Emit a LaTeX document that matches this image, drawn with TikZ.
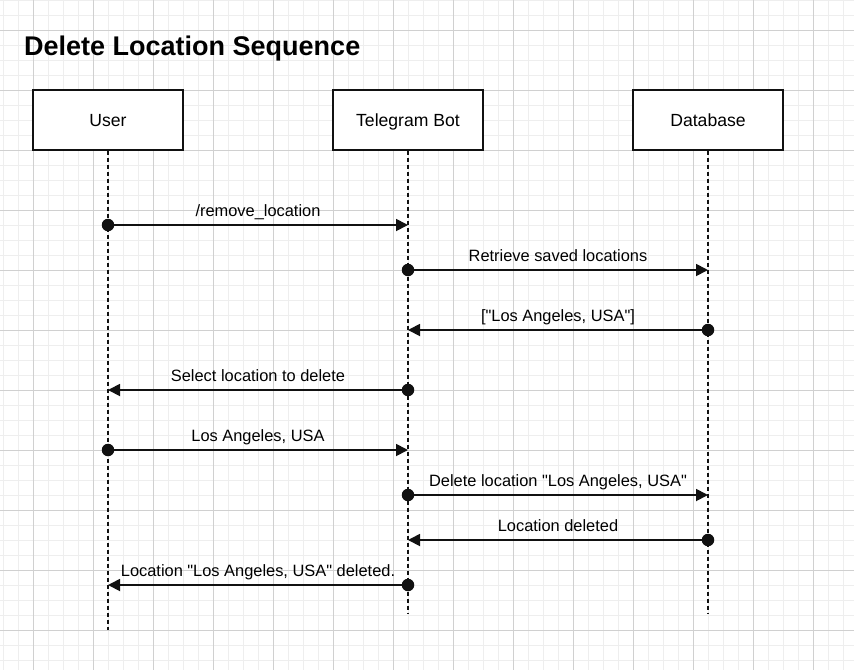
\documentclass[tikz,border=0pt]{standalone}
\usepackage{fontspec}
\setmainfont{Liberation Sans}[Ligatures=TeXOff]
\usetikzlibrary{arrows.meta,calc}
\definecolor{gridminor}{HTML}{EEEEEE}
\definecolor{gridmajor}{HTML}{D0D0D0}
\definecolor{ink}{HTML}{111111}
\tikzset{
  actor/.style={draw=ink, line width=1.4pt, fill=white, minimum width=150pt, minimum height=60pt,
    inner sep=0pt, text height=13.4pt, text depth=0pt, font=\fontsize{17.6pt}{20pt}\selectfont},
  lifeline/.style={draw=ink, line width=1.4pt, dash pattern=on 4pt off 3pt},
  msg/.style={draw=ink, line width=1.8pt, -{Triangle[length=12pt,width=12pt]}},
  startdot/.style={circle, fill=ink, inner sep=0pt, minimum size=12.5pt},
  msglabel/.style={anchor=base, inner sep=0pt, font=\fontsize{16.4pt}{19pt}\selectfont},
}
\begin{document}
\begin{tikzpicture}[x=1pt, y=-1pt]
\useasboundingbox (0,0) rectangle (854,670);
\fill[white] (0,0) rectangle (854,670);
% grid
\foreach \gx in {3,18,...,854} \draw[gridminor, line width=0.9pt] (\gx,0) -- (\gx,670);
\foreach \gy in {0,15,...,670} \draw[gridminor, line width=0.9pt] (0,\gy) -- (854,\gy);
\foreach \gx in {33,93,...,854} \draw[gridmajor, line width=0.9pt] (\gx,0) -- (\gx,670);
\foreach \gy in {30,90,...,670} \draw[gridmajor, line width=0.9pt] (0,\gy) -- (854,\gy);
% title
\node[anchor=base west, inner sep=0pt, font=\fontsize{27pt}{30pt}\selectfont\bfseries] (title) at (24,55) {Delete Location Sequence};
% actors
\node[actor] (user) at (108,120) {User};
\node[actor] (bot) at (408,120) {Telegram Bot};
\node[actor] (db) at (708,120) {Database};
% lifeline ends
\coordinate (userEnd) at (108,630);
\coordinate (botEnd) at (408,613);
\coordinate (dbEnd) at (708,613);
\draw[lifeline] (user.south) -- (userEnd);
\draw[lifeline] (bot.south) -- (botEnd);
\draw[lifeline] (db.south) -- (dbEnd);
% message anchor points
\foreach \n/\y in {1/225,2/270,3/330,4/390,5/450,6/495,7/540,8/585} {
  \coordinate (u\n) at (108,\y);
  \coordinate (b\n) at (408,\y);
  \coordinate (d\n) at (708,\y);
}
% messages
\draw[msg] (u1) -- (b1);
\node[startdot] (s1) at (u1) {};
\node[msglabel] (l1) at ([yshift=8.5pt]$(u1)!0.5!(b1)$) {/remove\_location};

\draw[msg] (b2) -- (d2);
\node[startdot] (s2) at (b2) {};
\node[msglabel] (l2) at ([yshift=8.5pt]$(b2)!0.5!(d2)$) {Retrieve saved locations};

\draw[msg] (d3) -- (b3);
\node[startdot] (s3) at (d3) {};
\node[msglabel] (l3) at ([yshift=8.5pt]$(b3)!0.5!(d3)$) {["Los Angeles, USA"]};

\draw[msg] (b4) -- (u4);
\node[startdot] (s4) at (b4) {};
\node[msglabel] (l4) at ([yshift=8.5pt]$(u4)!0.5!(b4)$) {Select location to delete};

\draw[msg] (u5) -- (b5);
\node[startdot] (s5) at (u5) {};
\node[msglabel] (l5) at ([yshift=8.5pt]$(u5)!0.5!(b5)$) {Los Angeles, USA};

\draw[msg] (b6) -- (d6);
\node[startdot] (s6) at (b6) {};
\node[msglabel] (l6) at ([yshift=8.5pt]$(b6)!0.5!(d6)$) {Delete location "Los Angeles, USA"};

\draw[msg] (d7) -- (b7);
\node[startdot] (s7) at (d7) {};
\node[msglabel] (l7) at ([yshift=8.5pt]$(b7)!0.5!(d7)$) {Location deleted};

\draw[msg] (b8) -- (u8);
\node[startdot] (s8) at (b8) {};
\node[msglabel] (l8) at ([yshift=8.5pt]$(u8)!0.5!(b8)$) {Location "Los Angeles, USA" deleted.};
\end{tikzpicture}
\end{document}
